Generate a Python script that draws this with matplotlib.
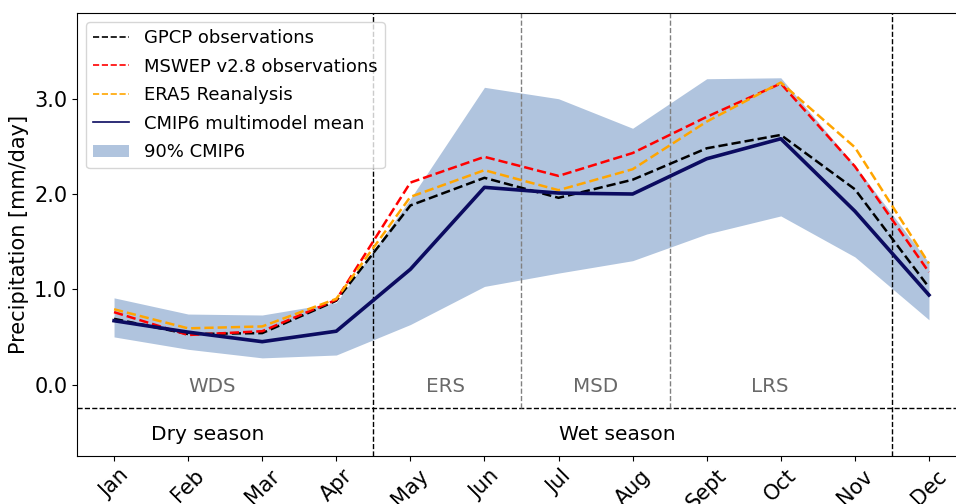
import matplotlib
matplotlib.use("Agg")
import matplotlib.pyplot as plt
from matplotlib.lines import Line2D
from matplotlib.patches import Patch
import numpy as np

months = ["Jan", "Feb", "Mar", "Apr", "May", "Jun", "Jul", "Aug", "Sept", "Oct", "Nov", "Dec"]
gpcp = [0.69, 0.53, 0.54, 0.88, 1.88, 2.17, 1.96, 2.15, 2.48, 2.62, 2.05, 1.02]
mswep = [0.76, 0.52, 0.56, 0.89, 2.12, 2.39, 2.19, 2.43, 2.81, 3.16, 2.29, 1.18]
era5 = [0.79, 0.59, 0.61, 0.90, 1.97, 2.25, 2.04, 2.26, 2.76, 3.17, 2.49, 1.27]
cmip_mean = [0.67, 0.55, 0.45, 0.56, 1.21, 2.07, 2.01, 2.00, 2.37, 2.58, 1.82, 0.94]
cmip_lo = [0.50, 0.37, 0.28, 0.31, 0.63, 1.03, 1.17, 1.30, 1.58, 1.77, 1.34, 0.68]
cmip_hi = [0.91, 0.74, 0.73, 0.86, 1.95, 3.12, 3.00, 2.69, 3.21, 3.22, 2.30, 1.28]

sub_labels = ["WDS", "ERS", "MSD", "LRS"]
sub_pos = [1.33, 4.47, 6.5, 8.85]
season_labels = ["Dry season", "Wet season"]
season_pos = [1.27, 6.8]

navy = "#0b0b60"
band = "lightsteelblue"

fig = plt.figure(figsize=(9.56, 5.04), dpi=100)
ax = fig.add_axes([77/956, 1-456/504, (966-77)/956, (456-13)/504])
x = np.arange(len(months))

ax.fill_between(x, cmip_lo, cmip_hi, color=band, lw=0, zorder=1)
ax.plot(x, gpcp, "--", color="black", lw=1.8, zorder=3)
ax.plot(x, mswep, "--", color="red", lw=1.8, zorder=3)
ax.plot(x, era5, "--", color="orange", lw=1.8, zorder=3)
ax.plot(x, cmip_mean, "-", color=navy, lw=2.6, zorder=4)

ax.set_xlim(-0.5, 11.5)
ax.set_ylim(-0.75, 3.9)
ax.set_yticks([0, 1, 2, 3])
ax.set_yticklabels(["0.0", "1.0", "2.0", "3.0"])
ax.set_xticks(x)
ax.set_xticklabels(months, rotation=45)
ax.tick_params(labelsize=15)
ax.set_ylabel("Precipitation [mm/day]", fontsize=15)

ax.axhline(-0.25, color="black", ls="--", lw=1, zorder=2)
for xv in [3.5, 10.5]:
    ax.axvline(xv, color="black", ls="--", lw=1, zorder=2)
for xv in [5.5, 7.5]:
    ax.plot([xv, xv], [-0.25, 3.9], color="gray", ls="--", lw=1, zorder=2)

for lab, p in zip(sub_labels, sub_pos):
    ax.text(p, -0.02, lab, color="dimgray", fontsize=14.3, ha="center", va="center")
for lab, p in zip(season_labels, season_pos):
    ax.text(p, -0.52, lab, color="black", fontsize=14.5, ha="center", va="center")

handles = [
    Line2D([], [], color="black", ls="--", lw=1.2),
    Line2D([], [], color="red", ls="--", lw=1.2),
    Line2D([], [], color="orange", ls="--", lw=1.2),
    Line2D([], [], color=navy, ls="-", lw=1.2),
    Patch(facecolor=band, edgecolor="none"),
]
labels = ["GPCP observations", "MSWEP v2.8 observations", "ERA5 Reanalysis",
          "CMIP6 multimodel mean", "90% CMIP6"]
ax.legend(handles, labels, loc="upper left", fontsize=13, labelspacing=0.58)

fig.savefig("out.png", dpi=100)
